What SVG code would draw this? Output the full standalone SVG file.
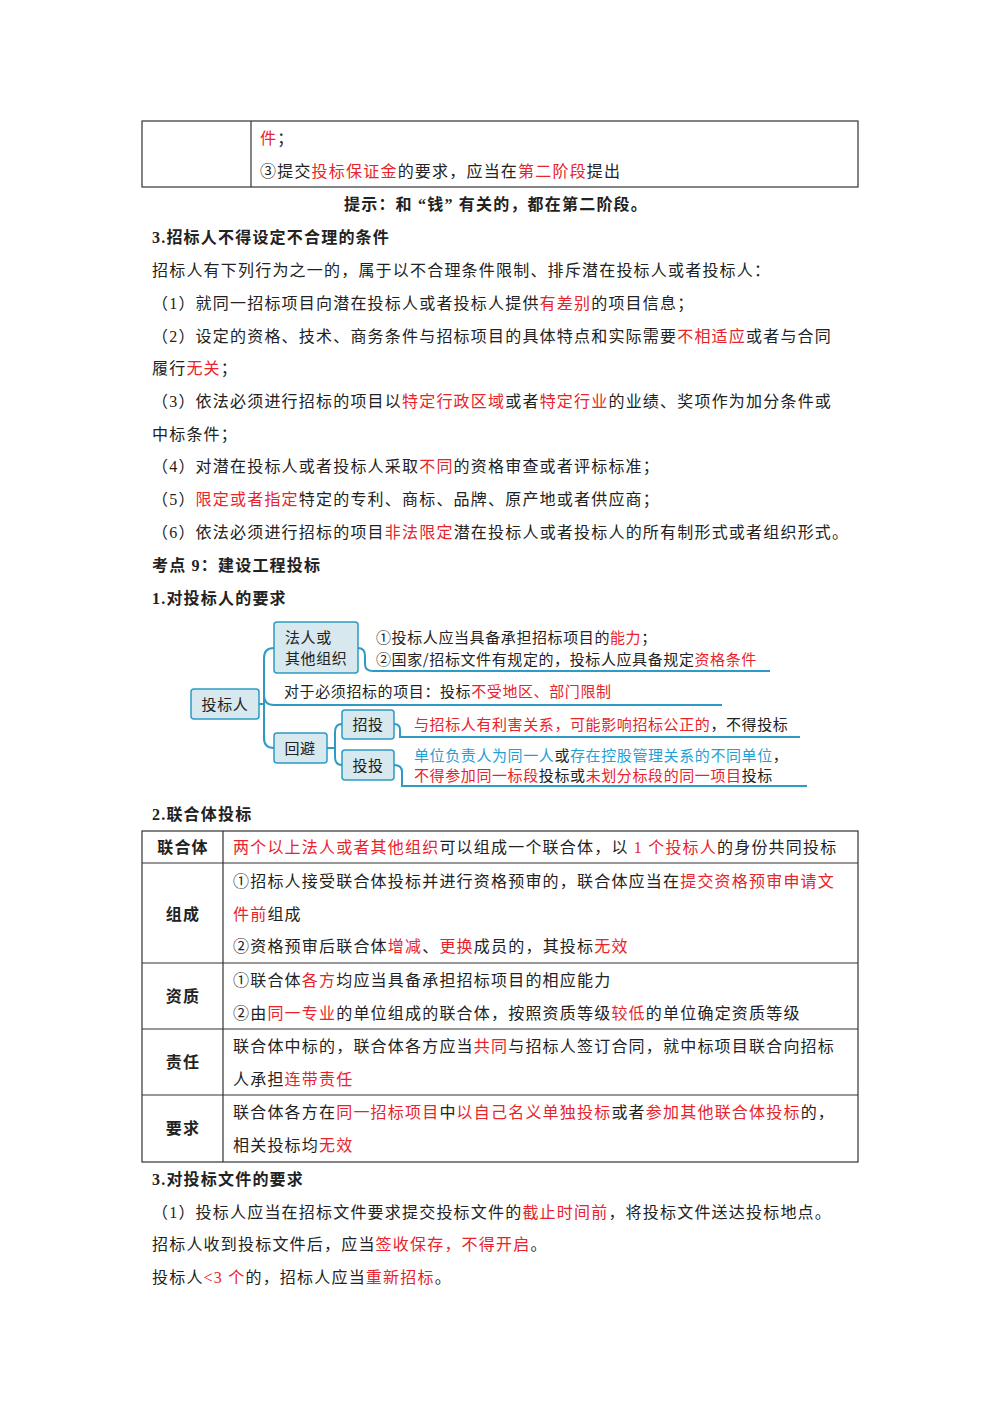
<svg xmlns="http://www.w3.org/2000/svg" width="1000" height="1414" viewBox="0 0 1000 1414">
<style>
text{font-family:"Liberation Serif","Noto Sans CJK SC",serif;font-size:16px;fill:#222;letter-spacing:1.2px}
.r{fill:#e8232b}.b{font-weight:bold}
.m{font-family:"Noto Sans CJK SC","Liberation Sans",sans-serif;font-size:15px;fill:#222;letter-spacing:0.6px}
.bl{fill:#1f9fd4}
.tb{fill:none;stroke:#333;stroke-width:1.2}
.box{fill:#d7e8ef;stroke:#2d9bc4;stroke-width:1.5}
.ln{fill:none;stroke:#2d9bc4;stroke-width:2}
</style>
<rect width="1000" height="1414" fill="#fff"/>
<g id="table1">
<rect class="tb" x="142" y="121" width="716" height="66"/>
<line class="tb" x1="251" y1="121" x2="251" y2="187"/>
<text x="260" y="144"><tspan class="r">件</tspan>；</text>
<text x="260" y="177">③提交<tspan class="r">投标保证金</tspan>的要求，应当在<tspan class="r">第二阶段</tspan>提出</text>
</g>
<g id="body1">
<text x="496" y="210" text-anchor="middle" class="b">提示：和 “钱” 有关的，都在第二阶段。</text>
<text x="152" y="243" class="b">3.招标人不得设定不合理的条件</text>
<text x="152" y="276">招标人有下列行为之一的，属于以不合理条件限制、排斥潜在投标人或者投标人：</text>
<text x="152" y="309">（1）就同一招标项目向潜在投标人或者投标人提供<tspan class="r">有差别</tspan>的项目信息；</text>
<text x="152" y="342">（2）设定的资格、技术、商务条件与招标项目的具体特点和实际需要<tspan class="r">不相适应</tspan>或者与合同</text>
<text x="152" y="374">履行<tspan class="r">无关</tspan>；</text>
<text x="152" y="407">（3）依法必须进行招标的项目以<tspan class="r">特定行政区域</tspan>或者<tspan class="r">特定行业</tspan>的业绩、奖项作为加分条件或</text>
<text x="152" y="440">中标条件；</text>
<text x="152" y="472">（4）对潜在投标人或者投标人采取<tspan class="r">不同</tspan>的资格审查或者评标标准；</text>
<text x="152" y="505">（5）<tspan class="r">限定或者指定</tspan>特定的专利、商标、品牌、原产地或者供应商；</text>
<text x="152" y="538">（6）依法必须进行招标的项目<tspan class="r">非法限定</tspan>潜在投标人或者投标人的所有制形式或者组织形式。</text>
<text x="152" y="571" class="b">考点 9：建设工程投标</text>
<text x="152" y="604" class="b">1.对投标人的要求</text>
</g>
<g id="connectors">
<path class="ln" d="M259 704 H264"/>
<path class="ln" d="M274 648 Q264 648 264 658 V738 Q264 748 274 748"/>
<path class="ln" d="M264 695 Q264 705 274 705 H722"/>
<path class="ln" d="M358 648 Q365 648 365 656 V664 Q365 671 373 671 H770"/>
<path class="ln" d="M327 748 H335"/>
<path class="ln" d="M342 724 Q335 724 335 732 V757 Q335 765 342 765"/>
<path class="ln" d="M394 724 Q400 724 400 730 V737 H800"/>
<path class="ln" d="M394 765 Q402 765 402 772 V786 H807"/>
</g>
<g id="n-tbr"><rect class="box" x="191" y="689" width="68" height="30" rx="3"/><text class="m" x="225" y="710" text-anchor="middle">投标人</text></g>
<g id="n-fr"><rect class="box" x="274" y="622" width="84" height="51" rx="3"/><text class="m" x="285" y="643">法人或</text><text class="m" x="285" y="664">其他组织</text></g>
<g id="n-fr-t"><text class="m" x="376" y="643">①投标人应当具备承担招标项目的<tspan class="r">能力</tspan>；</text><text class="m" x="376" y="665">②国家/招标文件有规定的，投标人应具备规定<tspan class="r">资格条件</tspan></text></g>
<g id="n-dy"><text class="m" x="284" y="697">对于必须招标的项目：投标<tspan class="r">不受地区、部门限制</tspan></text></g>
<g id="n-hb"><rect class="box" x="274" y="733" width="53" height="30" rx="3"/><text class="m" x="300" y="754" text-anchor="middle">回避</text></g>
<g id="n-zt"><rect class="box" x="342" y="710" width="52" height="29" rx="3"/><text class="m" x="368" y="730" text-anchor="middle">招投</text><text class="m" x="414" y="730"><tspan class="r">与招标人有利害关系，可能影响招标公正的</tspan>，不得投标</text></g>
<g id="n-tt"><rect class="box" x="342" y="750" width="52" height="30" rx="3"/><text class="m" x="368" y="771" text-anchor="middle">投投</text><text class="m" x="414" y="761"><tspan class="bl">单位负责人为同一人</tspan>或<tspan class="bl">存在控股管理关系的不同单位</tspan>，</text><text class="m" x="414" y="781"><tspan class="r">不得参加同一标段</tspan>投标或<tspan class="r">未划分标段的同一项目</tspan>投标</text></g>
<g id="table2">
<text x="152" y="820" class="b">2.联合体投标</text>
<rect class="tb" x="142" y="831" width="716" height="331"/>
<line class="tb" x1="223" y1="831" x2="223" y2="1162"/>
<line class="tb" x1="142" y1="863" x2="858" y2="863"/>
<line class="tb" x1="142" y1="963" x2="858" y2="963"/>
<line class="tb" x1="142" y1="1029" x2="858" y2="1029"/>
<line class="tb" x1="142" y1="1095" x2="858" y2="1095"/>
<text x="183" y="853" text-anchor="middle" class="b">联合体</text>
<text x="233" y="853"><tspan class="r">两个以上法人或者其他组织</tspan>可以组成一个联合体，以 <tspan class="r">1 个投标人</tspan>的身份共同投标</text>
<text x="183" y="920" text-anchor="middle" class="b">组成</text>
<text x="233" y="887">①招标人接受联合体投标并进行资格预审的，联合体应当在<tspan class="r">提交资格预审申请文</tspan></text>
<text x="233" y="920"><tspan class="r">件前</tspan>组成</text>
<text x="233" y="952">②资格预审后联合体<tspan class="r">增减</tspan>、<tspan class="r">更换</tspan>成员的，其投标<tspan class="r">无效</tspan></text>
<text x="183" y="1002" text-anchor="middle" class="b">资质</text>
<text x="233" y="986">①联合体<tspan class="r">各方</tspan>均应当具备承担招标项目的相应能力</text>
<text x="233" y="1019">②由<tspan class="r">同一专业</tspan>的单位组成的联合体，按照资质等级<tspan class="r">较低</tspan>的单位确定资质等级</text>
<text x="183" y="1068" text-anchor="middle" class="b">责任</text>
<text x="233" y="1052">联合体中标的，联合体各方应当<tspan class="r">共同</tspan>与招标人签订合同，就中标项目联合向招标</text>
<text x="233" y="1085">人承担<tspan class="r">连带责任</tspan></text>
<text x="183" y="1134" text-anchor="middle" class="b">要求</text>
<text x="233" y="1118">联合体各方在<tspan class="r">同一招标项目</tspan>中<tspan class="r">以自己名义单独投标</tspan>或者<tspan class="r">参加其他联合体投标</tspan>的，</text>
<text x="233" y="1151">相关投标均<tspan class="r">无效</tspan></text>
</g>
<g id="body2">
<text x="152" y="1185" class="b">3.对投标文件的要求</text>
<text x="152" y="1218">（1）投标人应当在招标文件要求提交投标文件的<tspan class="r">截止时间前</tspan>，将投标文件送达投标地点。</text>
<text x="152" y="1250">招标人收到投标文件后，应当<tspan class="r">签收保存，不得开启</tspan>。</text>
<text x="152" y="1283">投标人<tspan class="r">&lt;3 个</tspan>的，招标人应当<tspan class="r">重新招标</tspan>。</text>
</g>
</svg>
